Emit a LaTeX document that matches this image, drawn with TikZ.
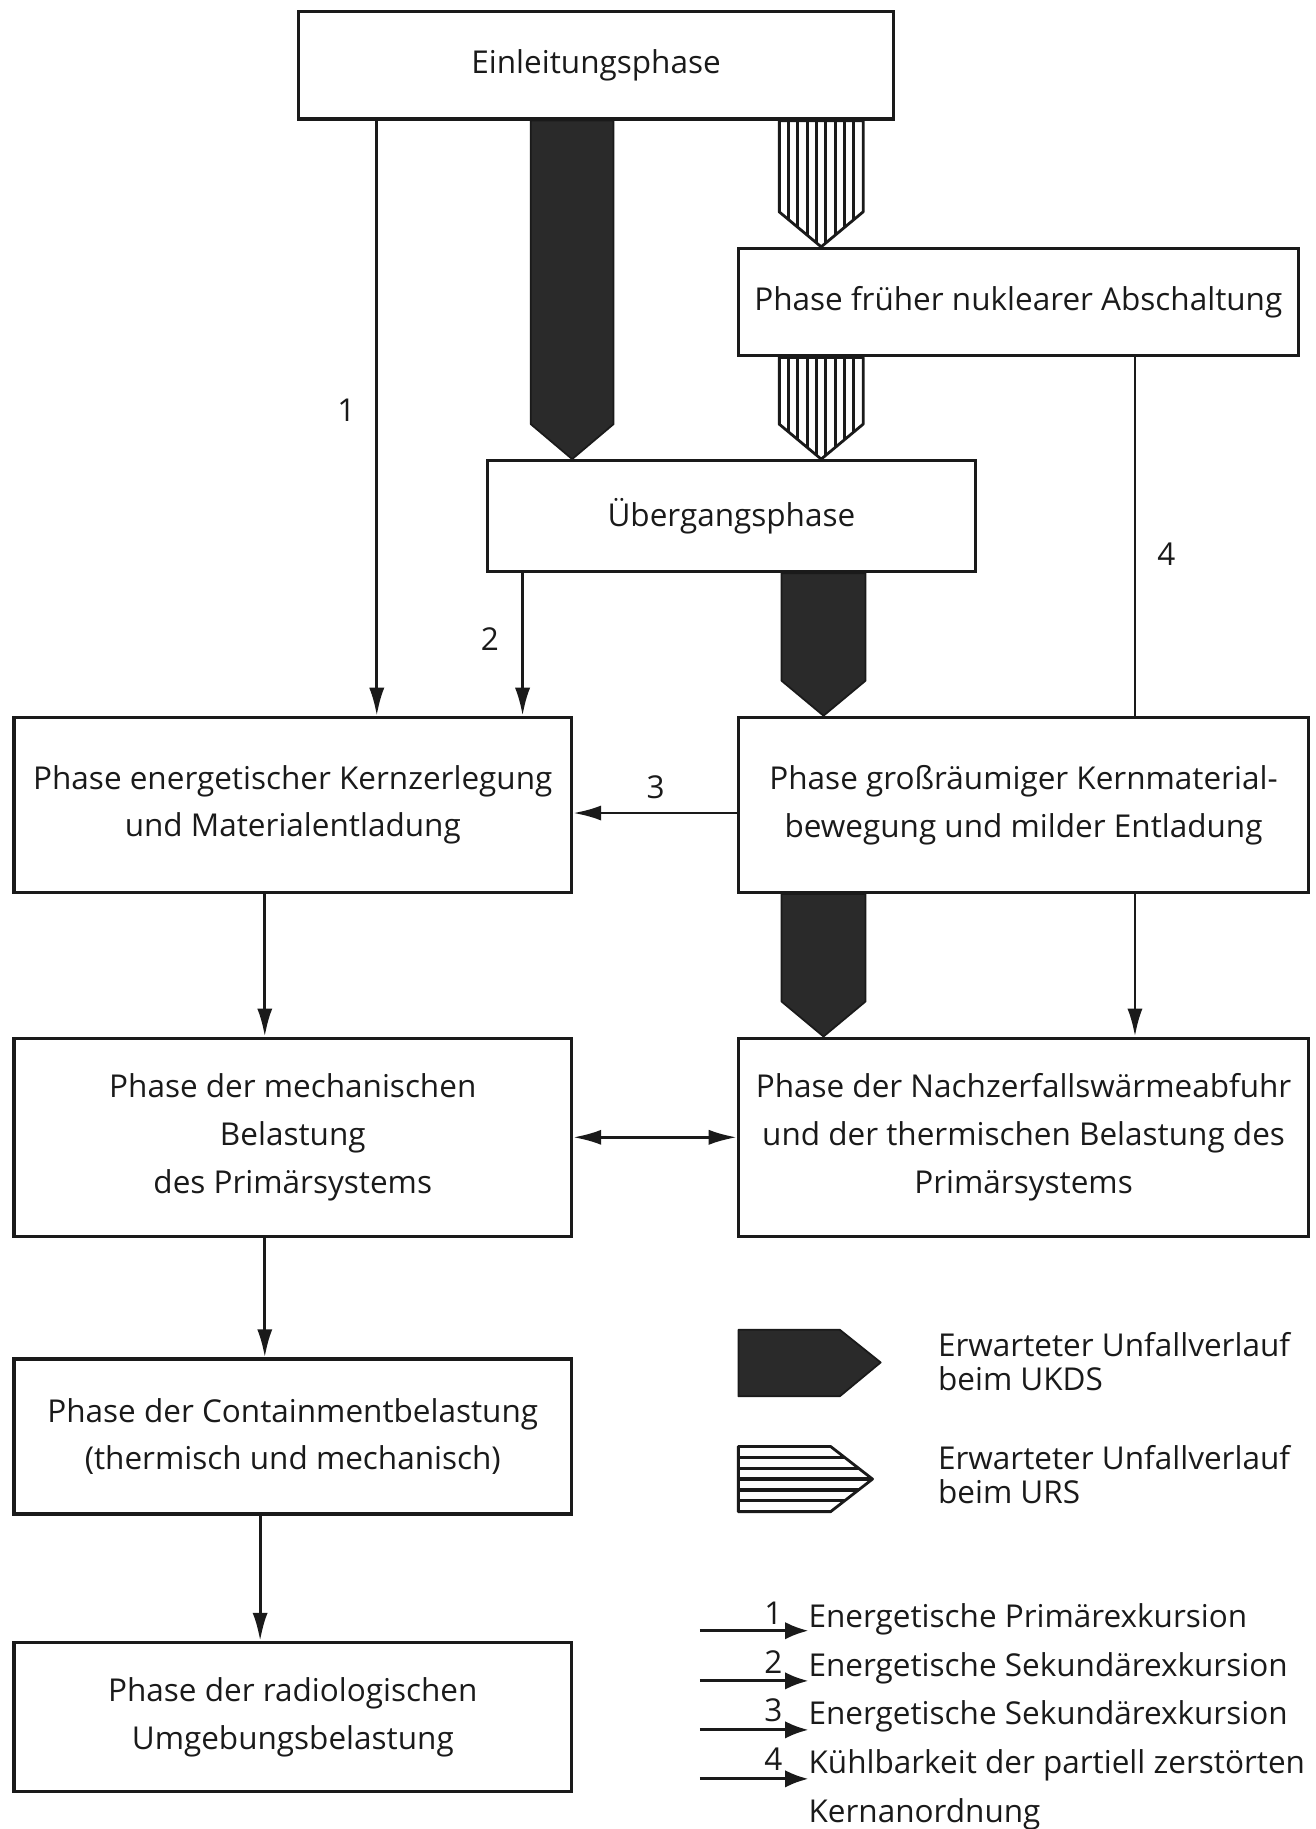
\documentclass[tikz,border=0pt]{standalone}
\usepackage{fontspec}
\setmainfont{Open Sans}
\usetikzlibrary{arrows.meta,calc}
\definecolor{ink}{HTML}{1A1A1A}
\definecolor{fatfill}{HTML}{2A2A2A}
% broad downward arrow: style, left x, right x, head length, source node, target node
\newcommand\fatdown[6]{%
  \path[#1] let \p1=(#5.south), \p2=(#6.north) in
    (#2pt,\y1) -- (#3pt,\y1) -- (#3pt,\y2+#4pt) -- ({(#2+#3)/2*1pt},\y2)
    -- (#2pt,\y2+#4pt) -- cycle;}
\begin{document}
\begin{tikzpicture}[x=1pt,y=-1pt,
  box/.style={draw=ink, line width=2.8pt, inner sep=0pt, align=center, text=ink,
    font=\fontsize{27}{41}\selectfont},
  conn/.style={draw=ink, line width=2.4pt, -{Latex[length=24pt,width=13pt]}},
  dconn/.style={draw=ink, line width=2.4pt, {Latex[length=24pt,width=13pt]}-{Latex[length=24pt,width=13pt]}},
  lconn/.style={draw=ink, line width=2.4pt, -{Latex[length=20pt,width=15pt]}},
  plain/.style={draw=ink, line width=2.4pt},
  fatdark/.style={fill=fatfill, draw=ink, line width=1.5pt, line join=round},
  stripeV/.style={fill=white, draw=ink, line width=2.4pt, line join=round,
    path picture={\foreach \i in {0,...,10}
      \draw[ink, line width=2.8pt]
        ([xshift=\i*8pt]path picture bounding box.north west) --
        ([xshift=\i*8pt]path picture bounding box.south west);}},
  stripeH/.style={fill=white, draw=ink, line width=2.4pt, line join=round,
    path picture={\foreach \i in {0,...,6}
      \draw[ink, line width=2.8pt]
        ([yshift=-\i*9.33pt]path picture bounding box.north west) --
        ([yshift=-\i*9.33pt]path picture bounding box.north east);}},
  lbl/.style={text=ink, inner sep=0pt, font=\fontsize{27}{29}\selectfont}
]
\useasboundingbox (0,0) rectangle (1128,1568);

% phase boxes
\node[box, minimum width=510pt, minimum height=92pt]  (ein)   at (511,56)    {Einleitungsphase};
\node[box, minimum width=480pt, minimum height=92pt]  (frueh) at (873,259)   {Phase früher nuklearer Abschaltung};
\node[box, minimum width=418pt, minimum height=95pt]  (ueber) at (627,442.5) {Übergangsphase};
\node[box, minimum width=478pt, minimum height=150pt] (energ) at (251,690)   {Phase energetischer Kernzerlegung\\und Materialentladung};
\node[box, minimum width=489pt, minimum height=150pt] (gross) at (877.5,690) {Phase großräumiger Kernmaterial-\\bewegung und milder Entladung};
\node[box, minimum width=478pt, minimum height=170pt] (mech)  at (251,975)   {Phase der mechanischen\\Belastung\\des Primärsystems};
\node[box, minimum width=489pt, minimum height=170pt] (nach)  at (877.5,975) {Phase der Nachzerfallswärmeabfuhr\\und der thermischen Belastung des\\Primärsystems};
\node[box, minimum width=478pt, minimum height=133pt] (cont)  at (251,1231.5) {Phase der Containmentbelastung\\(thermisch und mechanisch)};
\node[box, minimum width=478pt, minimum height=128pt] (radio) at (251,1472)  {Phase der radiologischen\\Umgebungsbelastung};

% broad arrows
\fatdown{fatdark}{455}{526}{30}{ein}{ueber}
\fatdown{fatdark}{670}{742}{30}{ueber}{gross}
\fatdown{fatdark}{670}{742}{30}{gross}{nach}
\fatdown{stripeV}{668}{740}{30}{ein}{frueh}
\fatdown{stripeV}{668}{740}{30}{frueh}{ueber}

% thin connectors
\coordinate (c1) at (323,0);
\coordinate (c2) at (448,0);
\coordinate (c3) at (0,697);
\coordinate (c4) at (973,0);
\coordinate (c5) at (227,0);
\coordinate (c6) at (223,0);
\draw[conn]  (ein.south -| c1)   -- (energ.north -| c1);
\draw[conn]  (ueber.south -| c2) -- (energ.north -| c2);
\draw[plain] (frueh.south -| c4) -- (gross.north -| c4);
\draw[conn]  (gross.west |- c3)  -- (energ.east |- c3);
\draw[conn]  (energ.south -| c5) -- (mech.north -| c5);
\draw[conn]  (gross.south -| c4) -- (nach.north -| c4);
\draw[dconn] (mech.east) -- (nach.west |- mech.east);
\draw[conn]  (mech.south -| c5)  -- (cont.north -| c5);
\draw[conn]  (cont.south -| c6)  -- (radio.north -| c6);

% path numbers
\node[lbl] (n1) at (297,352) {1};
\node[lbl] (n2) at (420,548) {2};
\node[lbl] (n3) at (562,675) {3};
\node[lbl] (n4) at (1000,475) {4};

% legend: broad arrows
\path[fatdark] (633,1140) -- (720,1140) -- (755,1168) -- (720,1197) -- (633,1197) -- cycle;
\path[stripeH] (633,1240) -- (712,1240) -- (748,1268) -- (712,1296) -- (633,1296) -- cycle;
\node[lbl, anchor=west, align=left] (leg1) at (804,1167) {Erwarteter Unfallverlauf\\beim UKDS};
\node[lbl, anchor=west, align=left] (leg2) at (804,1264) {Erwarteter Unfallverlauf\\beim URS};

% legend: numbered paths
\node[lbl, anchor=base west] (e1) at (693,1395) {Energetische Primärexkursion};
\node[lbl, anchor=base west] (e2) at (693,1437) {Energetische Sekundärexkursion};
\node[lbl, anchor=base west] (e3) at (693,1478) {Energetische Sekundärexkursion};
\node[lbl, anchor=base west] (e4) at (693,1520) {Kühlbarkeit der partiell zerstörten};
\node[lbl, anchor=base west] (e5) at (693,1562) {Kernanordnung};
\foreach \r/\yy in {1/1398,2/1441,3/1483,4/1525}{
  \coordinate (s\r) at (600,\yy);
  \draw[lconn] (s\r) -- (e\r.west |- s\r);
}
\node[lbl, anchor=base east] (d1) at (671,1393) {1};
\node[lbl, anchor=base east] (d2) at (671,1435) {2};
\node[lbl, anchor=base east] (d3) at (671,1476) {3};
\node[lbl, anchor=base east] (d4) at (671,1518) {4};
\end{tikzpicture}
\end{document}
